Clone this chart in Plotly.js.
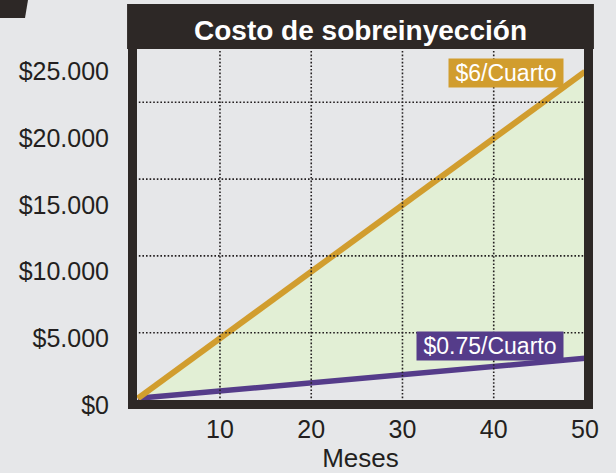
<!DOCTYPE html>
<html>
<head>
<meta charset="utf-8">
<script src="https://cdn.plot.ly/plotly-3.0.1.min.js"></script>
<style>
  html, body { margin: 0; padding: 0; background: #e6e7e9; }
  #chart { width: 616px; height: 473px; }
</style>
</head>
<body>
<div id="chart"></div>
<script>
// ---- data ----
const months = [1, 10, 20, 30, 40, 50];
const cost6 = [500, 5000, 10000, 15000, 20000, 25000];      // $6 / Cuarto
const cost075 = [500, 1050, 1650, 2300, 2900, 3500];        // $0.75 / Cuarto
const xTickVals = [10, 20, 30, 40, 50];
const yTickVals = [0, 5000, 10000, 15000, 20000, 25000];
const yTickText = ['$0', '$5.000', '$10.000', '$15.000', '$20.000', '$25.000'];
const gridX = [10, 20, 30, 40];
const gridY = [5000, 10000, 15000, 20000];
const titleText = 'Costo de sobreinyección';
const xTitle = 'Meses';
const label6 = '$6/Cuarto';
const label075 = '$0.75/Cuarto';

// ---- styles ----
const BG = '#e6e7e9';
const DARK = '#2d2826';
const TEXT = '#231f20';
const GOLD = '#d19d2e';
const PURPLE = '#553c8a';
const GREEN = '#e2efd5';
const FONT = 'Liberation Sans, Arial, sans-serif';

const traces = [
  { x: months, y: cost075, mode: 'lines', line: { width: 0, color: PURPLE },
    hoverinfo: 'skip', showlegend: false },
  { x: months, y: cost6, mode: 'lines', line: { width: 0, color: GOLD },
    fill: 'tonexty', fillcolor: GREEN, hoverinfo: 'skip', showlegend: false },
  { x: months, y: cost075, mode: 'lines', line: { width: 5.5, color: PURPLE },
    showlegend: false },
  { x: months, y: cost6, mode: 'lines', line: { width: 6, color: GOLD },
    showlegend: false }
];

const PW = 465, PH = 360; // plot area size in px
const bx = 9 / PW, by = 9 / PH;

const shapes = [];
gridX.forEach(v => shapes.push({
  type: 'line', layer: 'above', xref: 'x', yref: 'paper', x0: v, x1: v, y0: 0, y1: 1,
  line: { color: TEXT, width: 1.6, dash: '1.6px,2px' }
}));
gridY.forEach(v => shapes.push({
  type: 'line', layer: 'above', xref: 'paper', yref: 'y2', x0: 0, x1: 1, y0: v, y1: v,
  line: { color: TEXT, width: 1.6, dash: '1.6px,2px' }
}));
// frame
shapes.push({ type: 'rect', layer: 'above', xref: 'paper', yref: 'paper',
  x0: 0, x1: bx, y0: 0, y1: 1, fillcolor: DARK, line: { width: 0 } });
shapes.push({ type: 'rect', layer: 'above', xref: 'paper', yref: 'paper',
  x0: 1 - bx, x1: 1, y0: 0, y1: 1, fillcolor: DARK, line: { width: 0 } });
shapes.push({ type: 'rect', layer: 'above', xref: 'paper', yref: 'paper',
  x0: 0, x1: 1, y0: 0, y1: by, fillcolor: DARK, line: { width: 0 } });
// title bar
shapes.push({ type: 'rect', layer: 'above', xref: 'paper', yref: 'paper',
  x0: -0.002, x1: 1.002, y0: 1, y1: 1 + 45 / PH, fillcolor: DARK, line: { width: 0 } });
// top-left corner tab
shapes.push({ type: 'path', layer: 'above', xref: 'paper', yref: 'paper',
  path: `M ${-128/PW} ${409/PH} L ${-100/PW} ${409/PH} L ${-103/PW} ${391/PH} L ${-128/PW} ${391/PH} Z`,
  fillcolor: DARK, line: { width: 0 } });

const layout = {
  width: 616, height: 473,
  margin: { l: 128, r: 23, t: 49, b: 64, pad: 0 },
  paper_bgcolor: BG, plot_bgcolor: BG,
  font: { family: FONT, color: TEXT },
  showlegend: false,
  title: { text: titleText, font: { family: FONT, size: 28, weight: 'bold', color: '#ffffff' },
    x: (128 + 593) / 2 / 616, xref: 'container', xanchor: 'center',
    y: 1 - 30 / 473, yref: 'container', yanchor: 'middle' },
  xaxis: {
    range: [-0.08, 50.88], tickvals: xTickVals, ticks: '', showgrid: false,
    zeroline: false, showline: false, tickfont: { size: 25, color: TEXT },
    ticklabelstandoff: 3,
    title: { text: xTitle, font: { size: 26, color: TEXT }, standoff: 6 }
  },
  yaxis: {
    range: [-300, 26703], tickvals: yTickVals, ticktext: yTickText, ticks: '',
    showgrid: false, zeroline: false, showline: false,
    tickfont: { size: 25, color: TEXT }, ticklabelstandoff: 18
  },
  yaxis2: {
    range: [33, 23470], overlaying: 'y', visible: false, showgrid: false, zeroline: false
  },
  shapes: shapes,
  annotations: [
    { text: label6, xref: 'x', yref: 'y', x: 47.75, y: 24890, xanchor: 'right', yanchor: 'middle',
      showarrow: false, bgcolor: GOLD, font: { size: 23, color: '#ffffff' },
      width: 114, height: 28, borderpad: 0, align: 'center' },
    { text: label075, xref: 'x', yref: 'y', x: 47.75, y: 4423, xanchor: 'right', yanchor: 'middle',
      showarrow: false, bgcolor: PURPLE, font: { size: 23, color: '#ffffff' },
      width: 146, height: 28, borderpad: 0, align: 'center' }
  ]
};

Plotly.newPlot('chart', traces, layout, { staticPlot: true, displayModeBar: false });
</script>
</body>
</html>
